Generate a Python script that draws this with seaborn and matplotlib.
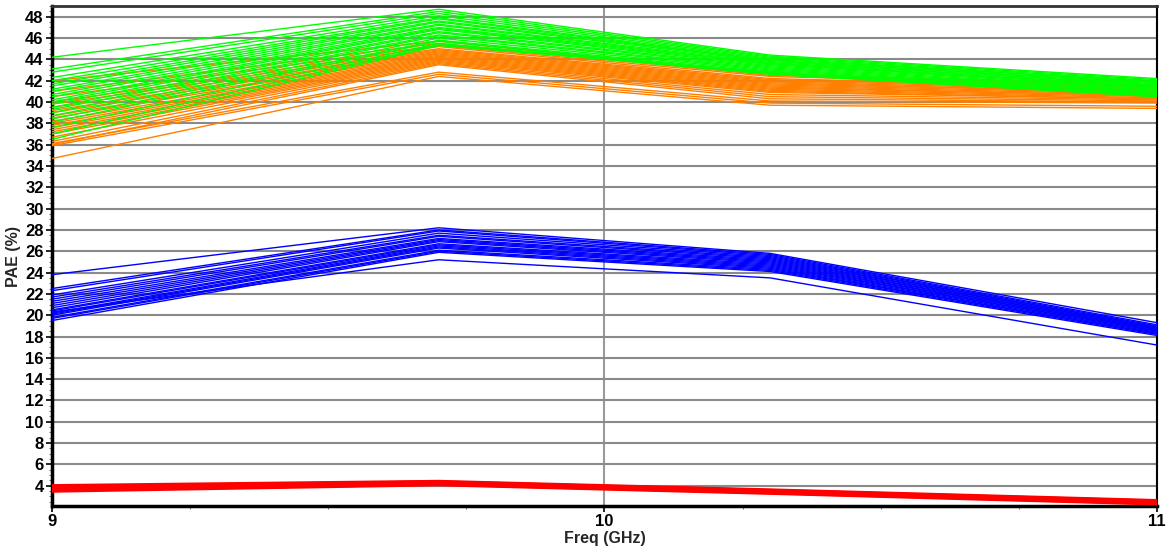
import seaborn as sns
import matplotlib.pyplot as plt
from matplotlib.ticker import MultipleLocator
import pandas as pd

# frequency points (GHz)
freq = [9.0, 9.7, 10.3, 11.0]

# PAE (%) traces, one row per Monte Carlo run
green_traces = [
    [44.2, 48.7, 44.4, 42.2], [43.1, 48.5, 44.3, 42.1], [42.8, 48.3, 44.2, 42.0],
    [42.3, 48.1, 44.1, 41.9], [42.0, 47.9, 44.0, 41.9], [41.7, 47.8, 43.9, 41.8],
    [41.5, 47.6, 43.9, 41.7], [41.2, 47.5, 43.8, 41.6], [41.0, 47.3, 43.7, 41.6],
    [40.7, 47.2, 43.6, 41.5], [40.5, 47.0, 43.6, 41.4], [40.2, 46.9, 43.5, 41.4],
    [40.0, 46.8, 43.4, 41.3], [39.8, 46.6, 43.3, 41.2], [39.5, 46.5, 43.2, 41.1],
    [39.3, 46.3, 43.1, 41.0], [39.0, 46.2, 43.0, 40.9], [38.7, 46.0, 42.9, 40.8],
    [38.4, 45.8, 42.8, 40.7], [38.1, 45.7, 42.7, 40.6], [37.6, 45.5, 42.7, 40.5],
    [37.0, 45.4, 42.6, 40.5], [36.5, 45.3, 42.8, 40.6],
]
orange_traces = [
    [42.0, 45.7, 42.6, 41.6], [41.0, 45.5, 42.5, 41.5], [40.5, 45.3, 42.4, 41.4],
    [40.0, 45.2, 42.2, 41.3], [39.8, 45.0, 42.1, 41.2], [39.5, 44.9, 42.0, 41.1],
    [39.2, 44.8, 41.9, 41.0], [39.0, 44.7, 41.8, 40.9], [38.7, 44.6, 41.7, 40.9],
    [38.5, 44.5, 41.6, 40.8], [38.2, 44.4, 41.5, 40.7], [38.0, 44.3, 41.4, 40.6],
    [37.8, 44.2, 41.3, 40.6], [37.6, 44.1, 41.2, 40.5], [37.4, 44.0, 41.1, 40.4],
    [37.2, 43.9, 41.0, 40.3], [37.0, 43.8, 40.9, 40.3], [36.7, 43.7, 40.7, 40.2],
    [36.3, 43.6, 40.5, 40.1], [36.0, 43.5, 40.3, 40.0], [36.1, 42.8, 40.1, 39.9],
    [35.9, 42.6, 39.9, 39.6], [34.7, 42.4, 39.7, 39.4],
]
blue_traces = [
    [23.8, 28.2, 25.8, 19.3], [22.5, 28.0, 25.7, 19.1], [22.3, 27.9, 25.6, 19.0],
    [21.9, 27.7, 25.5, 18.9], [21.7, 27.5, 25.4, 18.9], [21.5, 27.4, 25.3, 18.8],
    [21.3, 27.2, 25.2, 18.8], [21.1, 27.1, 25.1, 18.7], [20.9, 27.0, 25.0, 18.7],
    [20.7, 26.9, 24.9, 18.6], [20.5, 26.7, 24.8, 18.6], [20.4, 26.6, 24.7, 18.5],
    [20.2, 26.5, 24.6, 18.5], [20.1, 26.4, 24.5, 18.4], [20.0, 26.3, 24.4, 18.3],
    [19.8, 26.1, 24.3, 18.3], [19.7, 26.0, 24.2, 18.2], [19.5, 25.9, 24.1, 18.1],
    [20.3, 25.2, 23.5, 17.2],
]
red_traces = [
    [4.0, 4.4, 3.6, 2.6], [3.9, 4.35, 3.55, 2.55], [3.8, 4.3, 3.5, 2.5],
    [3.75, 4.25, 3.45, 2.45], [3.7, 4.2, 3.4, 2.4], [3.6, 4.15, 3.35, 2.35],
    [3.5, 4.1, 3.3, 2.3],
]

groups = {
    'orange': orange_traces,
    'green': green_traces,
    'blue': blue_traces,
    'red': red_traces,
}
palette = {'orange': '#ff8000', 'green': '#00ff00', 'blue': '#0000ff', 'red': '#ff0000'}
widths = {'orange': 1.0, 'green': 1.0, 'blue': 1.0, 'red': 2.4}

rows = []
for name, traces in groups.items():
    for i, tr in enumerate(traces):
        for f, v in zip(freq, tr):
            rows.append({'group': name, 'run': i, 'freq': f, 'pae': v})
df = pd.DataFrame(rows)

sns.set_style("white")
plt.rcParams['font.family'] = ['Liberation Sans', 'DejaVu Sans']

fig = plt.figure(figsize=(11.68, 5.53), dpi=100)
ax = fig.add_axes([0.0445, 0.085, 0.946, 0.904])

for name in groups:
    sub = df[df['group'] == name]
    sns.lineplot(data=sub, x='freq', y='pae', units='run', estimator=None,
                 color=palette[name], lw=widths[name], ax=ax, legend=False, zorder=3)

ax.set_xlim(9, 11)
ax.set_ylim(2.1, 49)
ax.xaxis.set_major_locator(MultipleLocator(1))
ax.xaxis.set_minor_locator(MultipleLocator(0.25))
ax.yaxis.set_major_locator(MultipleLocator(2))
ax.yaxis.set_minor_locator(MultipleLocator(0.5))
ax.set_yticks(range(4, 49, 2))

ax.grid(True, which='major', axis='y', color='#8a8a8a', lw=1.5, zorder=1)
ax.grid(True, which='major', axis='x', color='#9a9a9a', lw=1.5, zorder=1)

ax.tick_params(axis='both', which='major', direction='out', length=4, width=1.2,
               labelsize=12, colors='black', bottom=True, left=True, pad=2)
ax.tick_params(axis='both', which='minor', direction='out', length=2, width=0.8,
               bottom=True, left=True, color='#777777')
for lab in ax.get_xticklabels() + ax.get_yticklabels():
    lab.set_fontweight('bold')

ax.spines['left'].set_linewidth(2.5)
ax.spines['bottom'].set_linewidth(2.5)
ax.spines['top'].set_linewidth(2.0)
ax.spines['top'].set_color('#333333')
ax.spines['right'].set_linewidth(1.5)
for s in ['left', 'bottom', 'right']:
    ax.spines[s].set_color('black')

ax.set_xlabel('Freq (GHz)', fontsize=11.5, fontweight='bold', labelpad=1)
ax.set_ylabel('PAE (%)', fontsize=11.5, fontweight='bold', labelpad=3)

fig.savefig('out.png', dpi=100)
